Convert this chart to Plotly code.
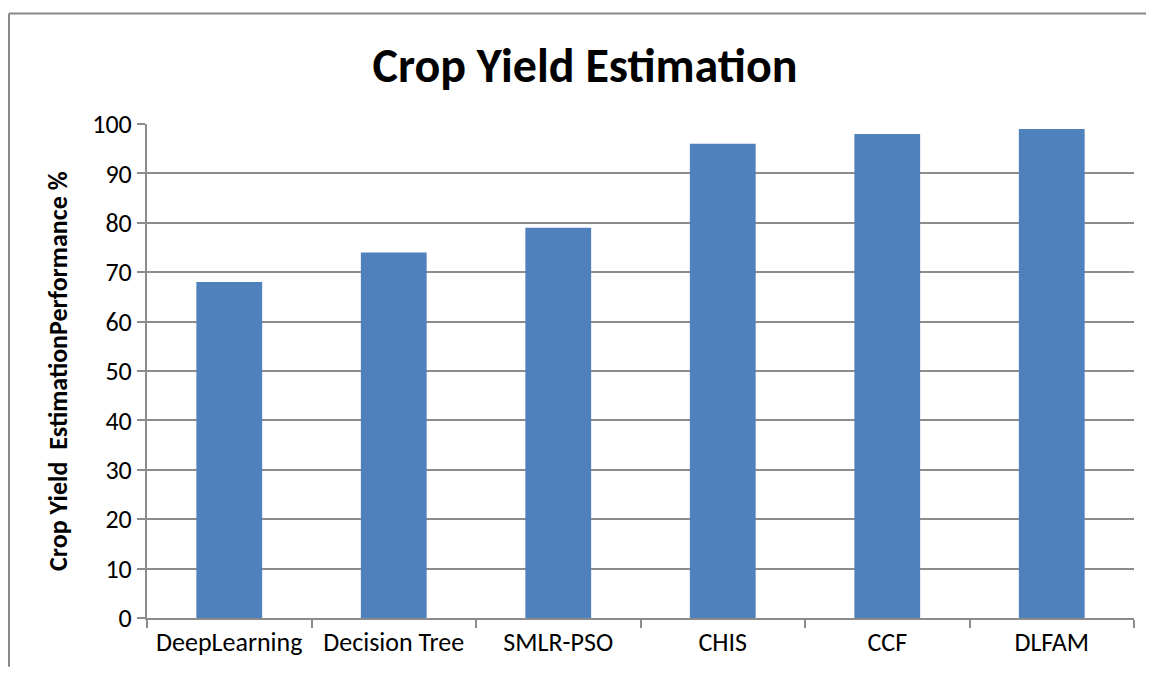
import plotly.graph_objects as go

methods = ["DeepLearning", "Decision Tree", "SMLR-PSO", "CHIS", "CCF", "DLFAM"]
performance = [68, 74, 79, 96, 98, 99]
y_ticks = [0, 10, 20, 30, 40, 50, 60, 70, 80, 90, 100]

BAR = "#4F81BD"
GRID = "#8C8C8C"
FONT = "Carlito, Calibri, Lato, sans-serif"

# page has an 8px body margin, so the figure starts at (8, 8);
# keep it 16px smaller than the window so no scrollbar appears
OFF = 8
W, H = 1156 - 2 * OFF, 678 - 2 * OFF
L, T = 147 - OFF, 124 - OFF
R = W - (1134 - OFF)
B = H - (620 - OFF)
pw, ph = W - L - R, H - T - B


def px_x(x):
    return (x - OFF - L) / pw


def px_y(y):
    return (H - B - (y - OFF)) / ph


fig = go.Figure(
    go.Bar(x=methods, y=performance, marker=dict(color=BAR, line=dict(width=0)))
)

fig.update_layout(
    width=W,
    height=H,
    margin=dict(l=L, r=R, t=T, b=B),
    paper_bgcolor="white",
    plot_bgcolor="white",
    font=dict(family=FONT, color="black", size=26),
    bargap=0.6,
    showlegend=False,
    title=dict(
        text="<b>Crop Yield Estimation</b>",
        font=dict(size=48, family=FONT, color="black"),
        x=(585 - OFF) / W,
        xanchor="center",
        y=1 - (65 - OFF) / H,
        yanchor="middle",
    ),
    xaxis=dict(
        showline=True,
        linecolor=GRID,
        linewidth=2,
        ticks="outside",
        tickson="boundaries",
        ticklen=8,
        tickcolor=GRID,
        tickwidth=2,
        showgrid=False,
        tickfont=dict(size=26),
    ),
    yaxis=dict(
        range=[0, 100],
        tickvals=y_ticks,
        showline=True,
        linecolor=GRID,
        linewidth=2,
        ticks="outside",
        ticklen=8,
        tickcolor=GRID,
        tickwidth=2,
        showgrid=True,
        gridcolor=GRID,
        gridwidth=2,
        zeroline=False,
        tickfont=dict(size=26),
    ),
)

# rotated y-axis title placed as an annotation
fig.add_annotation(
    text="<b>Crop Yield  EstimationPerformance %</b>",
    xref="paper", yref="paper",
    x=px_x(58), y=px_y(372),
    xanchor="center", yanchor="middle",
    textangle=-90, showarrow=False,
    font=dict(size=26, family=FONT, color="black"),
)

# outer chart border (top and left visible)
border = dict(color="#888888", width=2)
fig.add_shape(type="line", xref="paper", yref="paper",
              x0=px_x(9), x1=px_x(1146), y0=px_y(13), y1=px_y(13), line=border)
fig.add_shape(type="line", xref="paper", yref="paper",
              x0=px_x(9), x1=px_x(9), y0=px_y(13), y1=px_y(669), line=border)

fig.write_html("out.html", config=dict(displayModeBar=False))
